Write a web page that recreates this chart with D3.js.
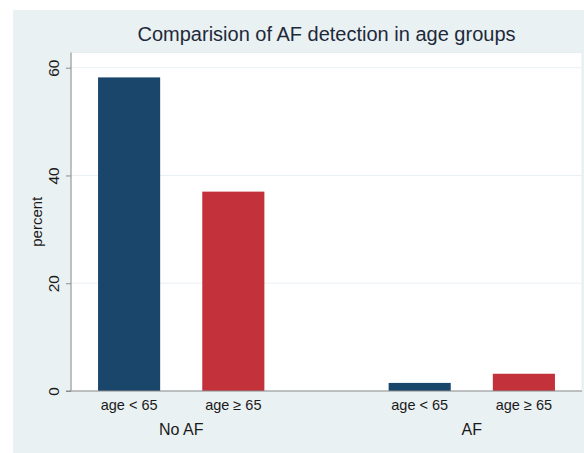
<!DOCTYPE html>
<html>
<head>
<meta charset="utf-8">
<script src="https://cdn.jsdelivr.net/npm/d3@7"></script>
<style>
html,body{margin:0;padding:0;background:#fff;}
svg{display:block;font-family:"Liberation Sans",Arial,Helvetica,sans-serif;}
</style>
</head>
<body>
<svg id="chart" width="584" height="453"></svg>
<script>
const title = "Comparision of AF detection in age groups";
const yAxisTitle = "percent";
const groups = ["No AF", "AF"];
const subgroups = ["age < 65", "age \u2265 65"];
const values = {
  "No AF": [58.2, 37.0],
  "AF": [1.5, 3.2]
};
const yTicks = [0, 20, 40, 60];
const barColors = ["#1b466c", "#c3323a"];

const W = 584, H = 453;
const svg = d3.select("#chart");
const plot = {left: 71, right: 582, top: 52.5, bottom: 391};

// outer background
svg.append("rect").attr("x", 13).attr("y", 10).attr("width", W - 13).attr("height", H - 10).attr("fill", "#eaf1f3");
// plot region
svg.append("rect").attr("x", plot.left).attr("y", plot.top)
  .attr("width", plot.right - plot.left).attr("height", plot.bottom - plot.top)
  .attr("fill", "#ffffff").attr("stroke", "#e6edf0").attr("stroke-width", 1);

const x0 = d3.scaleBand().domain(groups).range([plot.left, plot.right])
  .paddingInner(0.4276).paddingOuter(0.0931);
const x1 = d3.scaleBand().domain(subgroups).range([0, x0.bandwidth()])
  .paddingInner(0.404).paddingOuter(0);
const y = d3.scaleLinear().domain([0, 60]).range([391, 67.7]);

// gridlines
svg.append("g").selectAll("line").data(yTicks.filter(d => d > 0)).join("line")
  .attr("x1", plot.left).attr("x2", plot.right)
  .attr("y1", d => y(d)).attr("y2", d => y(d))
  .attr("stroke", "#eaf0f3").attr("stroke-width", 1);

// bars
const gg = svg.append("g").selectAll("g").data(groups).join("g")
  .attr("transform", g => `translate(${x0(g)},0)`);
gg.selectAll("rect").data(g => subgroups.map((s, i) => ({s, i, v: values[g][i]}))).join("rect")
  .attr("x", d => x1(d.s)).attr("width", x1.bandwidth())
  .attr("y", d => y(d.v)).attr("height", d => y(0) - y(d.v))
  .attr("fill", d => barColors[d.i]);

// y axis
const yAxis = svg.append("g").attr("transform", `translate(${plot.left},0)`)
  .call(d3.axisLeft(y).tickValues(yTicks).tickSize(5).tickPadding(4));
yAxis.select(".domain").remove();
yAxis.append("line").attr("x1", 0).attr("x2", 0).attr("y1", plot.top).attr("y2", plot.bottom)
  .attr("stroke", "#8c8c8c");
yAxis.selectAll(".tick line").attr("stroke", "#8c8c8c");
yAxis.selectAll(".tick text")
  .attr("font-size", 15.5).attr("fill", "#1a1a1a").attr("font-family", "Liberation Sans, Arial, sans-serif")
  .attr("transform", null).attr("x", null).attr("dy", null)
  .attr("text-anchor", "middle")
  .attr("transform", d => `translate(-12,0) rotate(-90)`);

// x axis line
svg.append("line").attr("x1", plot.left - 5).attr("x2", plot.right)
  .attr("y1", y(0)).attr("y2", y(0)).attr("stroke", "#8c8c8c");

// subgroup labels
gg.selectAll("text.sub").data(g => subgroups).join("text").attr("class", "sub")
  .attr("x", s => x1(s) + x1.bandwidth() / 2).attr("y", 410)
  .attr("text-anchor", "middle").attr("font-size", 14.5).attr("fill", "#1a1a1a")
  .text(s => s);
// group labels
svg.append("g").selectAll("text").data(groups).join("text")
  .attr("x", g => x0(g) + x0.bandwidth() / 2).attr("y", 435)
  .attr("text-anchor", "middle").attr("font-size", 16).attr("fill", "#1a1a1a")
  .text(g => g);

// y axis title
svg.append("text").attr("transform", `translate(42,${(plot.top + plot.bottom) / 2}) rotate(-90)`)
  .attr("text-anchor", "middle").attr("font-size", 15).attr("fill", "#1a1a1a").text(yAxisTitle);

// title
svg.append("text").attr("x", (plot.left + plot.right) / 2).attr("y", 41)
  .attr("text-anchor", "middle").attr("font-size", 20).attr("fill", "#1e2a3a").text(title);
</script>
</body>
</html>
